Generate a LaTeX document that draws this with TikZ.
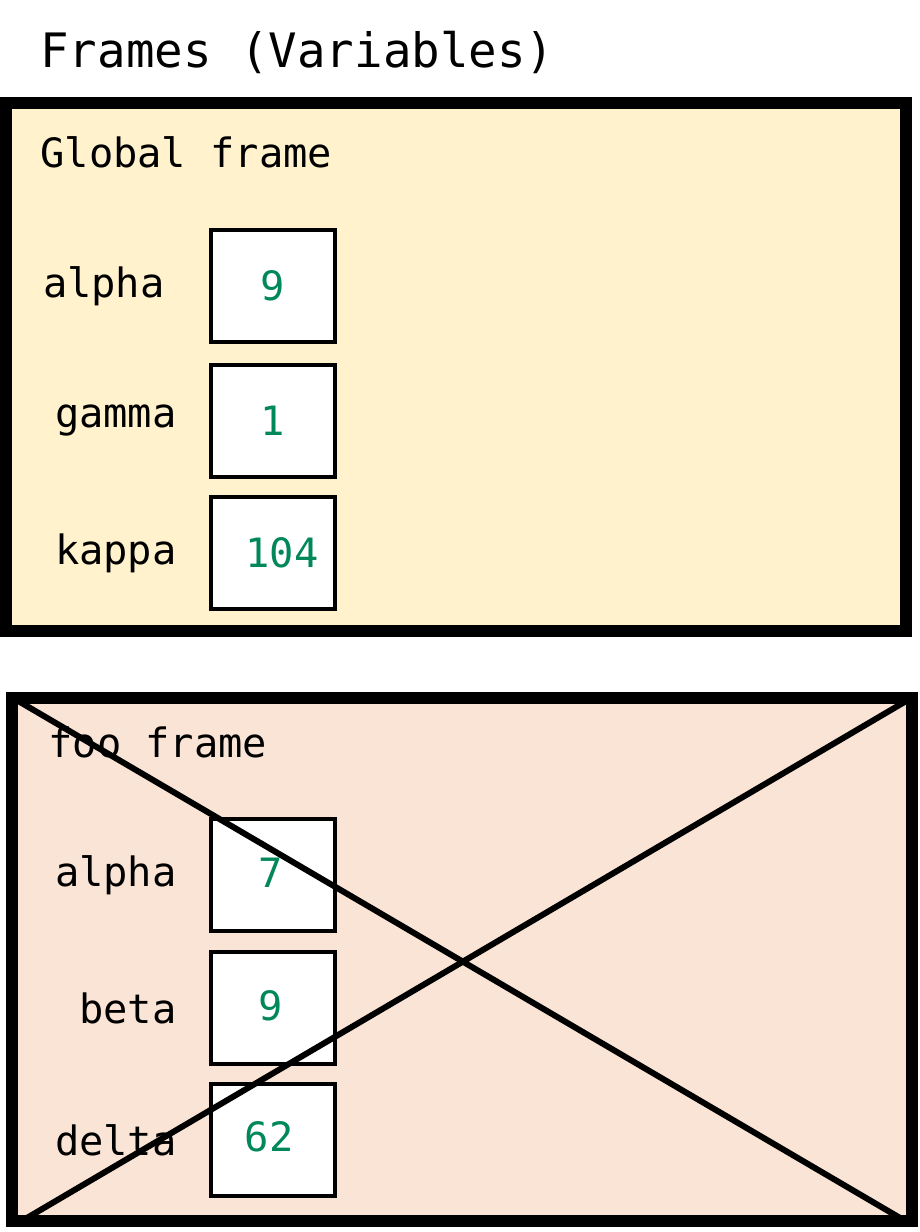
\documentclass[tikz,border=0pt]{standalone}
\usepackage{fontspec}
\setmonofont{DejaVu Sans Mono}
\usetikzlibrary{positioning}
\definecolor{globalbg}{HTML}{FFF2CC}
\definecolor{foobg}{HTML}{FAE4D6}
\definecolor{valgreen}{HTML}{00875A}
\tikzset{
  frame/.style={draw=black, line width=7pt},
  cell/.style={draw=black, line width=2.4pt, fill=white, minimum width=2.48cm, minimum height=2.24cm, inner sep=0pt},
  var/.style={font=\ttfamily\fontsize{23}{26}\selectfont, anchor=east, inner sep=0pt},
  val/.style={font=\ttfamily\fontsize{23}{26}\selectfont, text=valgreen, inner sep=0pt},
  ttl/.style={font=\ttfamily\fontsize{23}{26}\selectfont, anchor=west, inner sep=0pt}
}
\begin{document}
\begin{tikzpicture}[x=0.02cm, y=-0.02cm]
\useasboundingbox (0,0) rectangle (920,1232);
\node[ttl, font=\ttfamily\fontsize{27}{30}\selectfont] (head) at (40,52) {Frames (Variables)};
% global frame
\draw[frame, fill=globalbg] (6,103) rectangle (906,631);
\node[ttl] (gtitle) at (40,152) {Global frame};
\node[cell] (ga) at (273,286) {};
\node[cell] (gg) at (273,421) {};
\node[cell] (gk) at (273,553) {};
\node[val] at (ga) {9};
\node[val] at (gg) {1};
\node[val] at (282,553) {104};
\node[var] at (165,286) {alpha};
\node[var] at (177,421) {gamma};
\node[var] at (177,553) {kappa};
% foo frame
\draw[frame, fill=foobg] (12,698) rectangle (912,1221);
\node[ttl] (ftitle) at (48,742) {foo frame};
\node[cell] (fa) at (273,875) {};
\node[cell] (fb) at (273,1008) {};
\node[cell] (fd) at (273,1140) {};
\node[val] at (271,873) {7};
\node[val] at (271,1006) {9};
\node[val] at (269,1137) {62};
\node[var] at (177,875) {alpha};
\node[var] at (177,1008) {beta};
\node[var] at (177,1140) {delta};
% crossed out
\coordinate (tl) at (8,695);
\coordinate (br) at (907,1222);
\coordinate (bl) at (20,1222);
\coordinate (tr) at (913,697);
\draw[line width=3.4pt] (tl) -- (br);
\draw[line width=3.4pt] (bl) -- (tr);
\end{tikzpicture}
\end{document}
